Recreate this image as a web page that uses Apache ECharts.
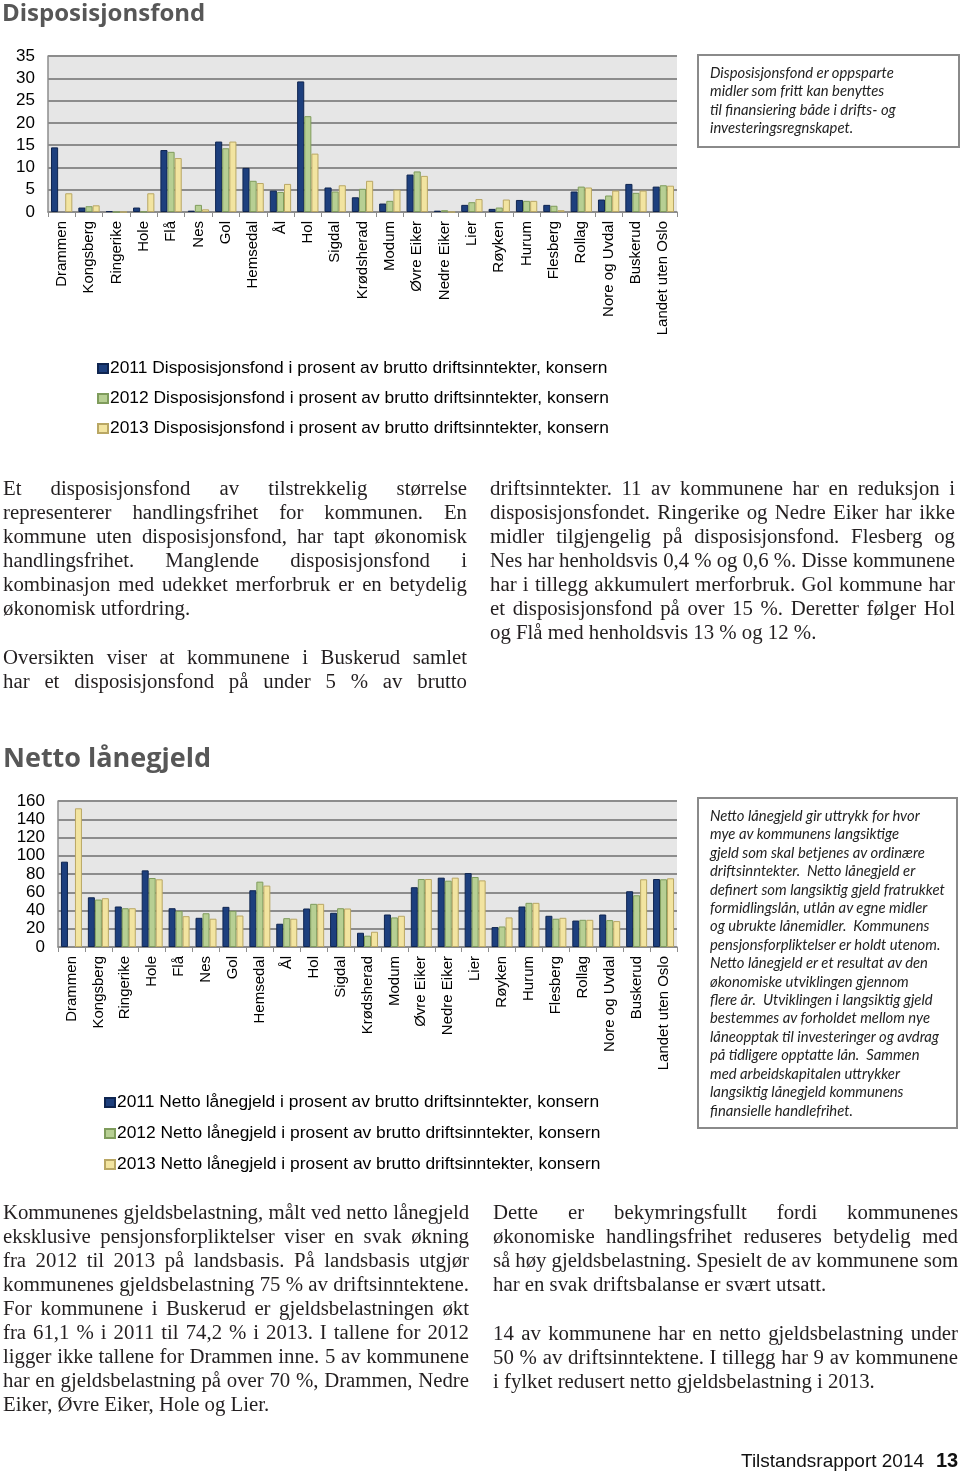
<!DOCTYPE html>
<html><head><meta charset="utf-8">
<script src="https://cdn.jsdelivr.net/npm/echarts@6/dist/echarts.min.js"></script>
<style>
html,body{margin:0;padding:0;background:#fff;}
#page{position:relative;width:960px;height:1472px;overflow:hidden;}
#chart{position:absolute;left:0;top:0;width:960px;height:1472px;}
.t{position:absolute;z-index:2;}
.h{font-family:"Open Sans",sans-serif;font-weight:700;color:#575757;white-space:nowrap;}
.col{font-family:"Liberation Serif",serif;font-size:20.8px;line-height:24px;color:#231f20;}
.col div{text-align:justify;text-align-last:justify;white-space:nowrap;height:24px;}
.col div.l{text-align-last:left;}
.col div.gap{height:25px;}
.box{border:2px solid #8a8a8a;font-family:"Lato",sans-serif;font-style:italic;font-size:14.8px;line-height:18.4px;color:#222;box-sizing:border-box;padding-left:11px;white-space:nowrap;}
.foot{font-family:"Liberation Sans",Arial,sans-serif;font-size:19px;color:#111;white-space:nowrap;}
</style></head>
<body><div id="page">
<div id="chart"></div>

<div class="t h" style="left:2px;top:-5px;font-size:24px;">Disposisjonsfond</div>
<div class="t box" style="left:697px;top:54px;width:263px;height:94px;padding-top:7px;">Disposisjonsfond er oppsparte<br>midler som fritt kan benyttes<br>til finansiering både i drifts- og<br>investeringsregnskapet.</div>

<div class="t col" style="left:3px;top:476px;width:464px;">
<div>Et disposisjonsfond av tilstrekkelig størrelse</div>
<div>representerer handlingsfrihet for kommunen. En</div>
<div>kommune uten disposisjonsfond, har tapt økonomisk</div>
<div>handlingsfrihet. Manglende disposisjonsfond i</div>
<div>kombinasjon med udekket merforbruk er en betydelig</div>
<div class="l">økonomisk utfordring.</div>
<div class="gap"></div>
<div>Oversikten viser at kommunene i Buskerud samlet</div>
<div>har et disposisjonsfond på under 5 % av brutto</div>
</div>
<div class="t col" style="left:490px;top:476px;width:465px;">
<div>driftsinntekter. 11 av kommunene har en reduksjon i</div>
<div>disposisjonsfondet. Ringerike og Nedre Eiker har ikke</div>
<div>midler tilgjengelig på disposisjonsfond. Flesberg og</div>
<div>Nes har henholdsvis 0,4 % og 0,6 %. Disse kommunene</div>
<div>har i tillegg akkumulert merforbruk. Gol kommune har</div>
<div>et disposisjonsfond på over 15 %. Deretter følger Hol</div>
<div class="l">og Flå med henholdsvis 13 % og 12 %.</div>
</div>

<div class="t h" style="left:3px;top:738px;font-size:27px;">Netto lånegjeld</div>
<div class="t box" style="left:697px;top:797px;width:261px;height:332px;padding-top:7px;">Netto lånegjeld gir uttrykk for hvor<br>mye av kommunens langsiktige<br>gjeld som skal betjenes av ordinære<br>driftsinntekter.&nbsp; Netto lånegjeld er<br>definert som langsiktig gjeld fratrukket<br>formidlingslån, utlån av egne midler<br>og ubrukte lånemidler.&nbsp; Kommunens<br>pensjonsforpliktelser er holdt utenom.<br>Netto lånegjeld er et resultat av den<br>økonomiske utviklingen gjennom<br>flere år.&nbsp; Utviklingen i langsiktig gjeld<br>bestemmes av forholdet mellom nye<br>låneopptak til investeringer og avdrag<br>på tidligere opptatte lån.&nbsp; Sammen<br>med arbeidskapitalen uttrykker<br>langsiktig lånegjeld kommunens<br>finansielle handlefrihet.</div>

<div class="t col" style="left:3px;top:1200px;width:466px;">
<div>Kommunenes gjeldsbelastning, målt ved netto lånegjeld</div>
<div>eksklusive pensjonsforpliktelser viser en svak økning</div>
<div>fra 2012 til 2013 på landsbasis. På landsbasis utgjør</div>
<div>kommunenes gjeldsbelastning 75 % av driftsinntektene.</div>
<div>For kommunene i Buskerud er gjeldsbelastningen økt</div>
<div>fra 61,1 % i 2011 til 74,2 % i 2013. I tallene for 2012</div>
<div>ligger ikke tallene for Drammen inne. 5 av kommunene</div>
<div>har en gjeldsbelastning på over 70 %, Drammen, Nedre</div>
<div class="l">Eiker, Øvre Eiker, Hole og Lier.</div>
</div>
<div class="t col" style="left:493px;top:1200px;width:465px;">
<div>Dette er bekymringsfullt fordi kommunenes</div>
<div>økonomiske handlingsfrihet reduseres betydelig med</div>
<div>så høy gjeldsbelastning. Spesielt de av kommunene som</div>
<div class="l">har en svak driftsbalanse er svært utsatt.</div>
<div class="gap"></div>
<div>14 av kommunene har en netto gjeldsbelastning under</div>
<div>50 % av driftsinntektene. I tillegg har 9 av kommunene</div>
<div class="l">i fylket redusert netto gjeldsbelastning i 2013.</div>
</div>

<div class="t foot" style="left:741px;top:1450px;">Tilstandsrapport 2014</div>
<div class="t foot" style="left:936px;top:1449px;font-weight:700;font-size:20px;">13</div>
</div>
<script>
const categories = ['Drammen','Kongsberg','Ringerike','Hole','Flå','Nes','Gol','Hemsedal','Ål','Hol','Sigdal','Krødsherad','Modum','Øvre Eiker','Nedre Eiker','Lier','Røyken','Hurum','Flesberg','Rollag','Nore og Uvdal','Buskerud','Landet uten Oslo'];

const fondNames = ['2011 Disposisjonsfond i prosent av brutto driftsinntekter, konsern','2012 Disposisjonsfond i prosent av brutto driftsinntekter, konsern','2013 Disposisjonsfond i prosent av brutto driftsinntekter, konsern'];
const fond2011 = [14.5,1.0,0.2,1.0,13.9,0.3,15.8,9.9,4.8,29.3,5.5,3.3,1.9,8.4,0.3,1.6,0.7,2.7,1.6,4.6,2.8,6.3,5.7];
const fond2012 = [null,1.3,0,0.1,13.5,1.6,14.3,7.0,4.5,21.5,4.6,5.2,2.5,9.1,0.4,2.2,1.0,2.5,1.4,5.7,3.7,4.3,6.0];
const fond2013 = [4.2,1.5,0,4.2,12.1,0.6,15.8,6.5,6.3,13.1,6.0,7.0,5.0,8.1,0,2.9,2.8,2.5,0.4,5.5,4.8,4.8,5.9];
const fondTicks = {min:0,max:35,interval:5};

const laanNames = ['2011 Netto lånegjeld i prosent av brutto driftsinntekter, konsern','2012 Netto lånegjeld i prosent av brutto driftsinntekter, konsern','2013 Netto lånegjeld i prosent av brutto driftsinntekter, konsern'];
const laan2011 = [93.5,54.5,44.4,84.0,42.5,32.0,44.0,62.2,25.5,42.2,37.5,15.6,35.6,65.5,76.0,81.0,21.8,44.4,34.2,29.0,35.6,61.1,74.5];
const laan2012 = [null,52.0,42.5,75.6,39.6,37.0,39.6,71.6,31.6,47.3,42.5,12.4,32.4,74.5,72.7,76.7,22.5,48.4,31.0,29.8,29.5,56.7,74.2];
const laan2013 = [152.0,53.5,42.5,74.2,33.8,31.0,34.5,67.3,31.0,47.3,42.2,16.7,34.2,74.5,76.0,73.0,32.4,48.4,32.0,29.8,28.4,74.2,75.3];
const laanTicks = {min:0,max:160,interval:20};

const fills = ['#1d3f7d','#b7cf93','#f2e4a0'];
const borders = ['#0f2550','#7f9c5c','#b9a764'];
const font = '"Liberation Sans", Arial, sans-serif';

// shrink any justified line that is naturally wider than its column
document.querySelectorAll('.col div').forEach(function(d){
  if (d.classList.contains('gap')) return;
  var r = document.createRange(); r.selectNodeContents(d);
  var ls = 0, guard = 0;
  while (r.getBoundingClientRect().width > d.clientWidth + 0.5 && guard < 60) {
    ls -= 0.05; d.style.letterSpacing = ls + 'px'; guard++;
  }
});

function xAxis(gi){
  return {type:'category',gridIndex:gi,data:categories,
    axisLine:{lineStyle:{color:'#8c8c8c',width:1.5}},
    axisTick:{show:true,length:5,lineStyle:{color:'#8c8c8c'}},
    axisLabel:{rotate:90,interval:0,fontSize:15,color:'#000',fontFamily:font,margin:9}};
}
function yAxis(gi,t){
  return {type:'value',gridIndex:gi,min:t.min,max:t.max,interval:t.interval,
    axisLine:{show:true,lineStyle:{color:'#8c8c8c',width:1.5}},
    axisTick:{show:false},
    splitLine:{lineStyle:{color:'#8c8c8c',width:2}},
    axisLabel:{fontSize:17,color:'#000',fontFamily:font,margin:13}};
}
function bars(names,arrs,gi){
  return arrs.map((d,i)=>({type:'bar',name:names[i],xAxisIndex:gi,yAxisIndex:gi,data:d,
    barGap:'0%',barCategoryGap:'22%',
    itemStyle:{color:fills[i],borderColor:borders[i],borderWidth:1},
    emphasis:{disabled:true},silent:true}));
}
function legend(names,left,top,gap){
  return {data:names,orient:'vertical',left:left,top:top,icon:'rect',itemWidth:10,itemHeight:9,itemGap:gap,
    textStyle:{fontSize:17.4,color:'#000',fontFamily:font,padding:[0,0,0,-3]},selectedMode:false};
}
const chart = echarts.init(document.getElementById('chart'),null,{renderer:'canvas'});
chart.setOption({
  animation:false,
  grid:[
    {left:48,top:56,width:629,height:156,show:true,backgroundColor:'#e6e6e6',borderWidth:0,containLabel:false},
    {left:58,top:801,width:619,height:146,show:true,backgroundColor:'#e6e6e6',borderWidth:0,containLabel:false}
  ],
  xAxis:[xAxis(0),xAxis(1)],
  yAxis:[yAxis(0,fondTicks),yAxis(1,laanTicks)],
  legend:[legend(fondNames,92,355,13),legend(laanNames,99,1089,14)],
  series:[...bars(fondNames,[fond2011,fond2012,fond2013],0),...bars(laanNames,[laan2011,laan2012,laan2013],1)]
});
</script>
</body></html>
